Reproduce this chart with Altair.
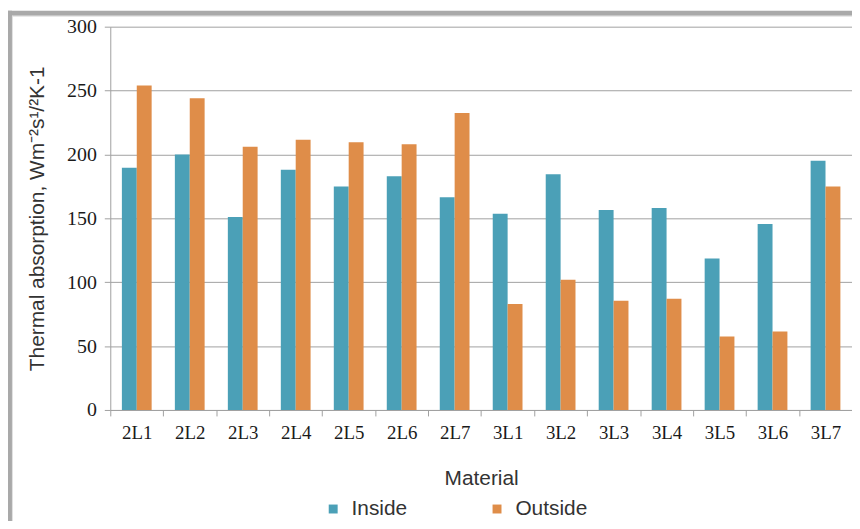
import altair as alt
import pandas as pd

materials = ["2L1", "2L2", "2L3", "2L4", "2L5", "2L6", "2L7",
             "3L1", "3L2", "3L3", "3L4", "3L5", "3L6", "3L7"]
inside = [189.5, 200, 151, 188, 175, 183, 166.5,
          153.5, 184.5, 156.5, 158, 118.5, 145.5, 195]
outside = [254, 244, 206, 211.5, 209.5, 208, 232.5,
           83, 102, 85.5, 87, 57.5, 61.5, 175]
series = ["Inside", "Outside"]
colors = ["#4BA0B7", "#DF8D49"]
y_ticks = [0, 50, 100, 150, 200, 250, 300]

rows = []
for m, a, b in zip(materials, inside, outside):
    rows.append({"Material": m, "Side": "Inside", "Value": a})
    rows.append({"Material": m, "Side": "Outside", "Value": b})
df = pd.DataFrame(rows)

GRID = "#a0a0a0"
W, H = 747, 386

bars = alt.Chart(df).mark_bar().encode(
    x=alt.X("Material:N", sort=materials,
            scale=alt.Scale(paddingInner=0, paddingOuter=0),
            axis=alt.Axis(title="Material", labelAngle=0, tickBand="extent",
                          tickSize=6, tickColor=GRID, domainColor=GRID,
                          labelFont="Liberation Serif", labelFontSize=19,
                          labelColor="#1a1a1a", labelPadding=8,
                          titleFont="Liberation Sans", titleFontSize=21,
                          titleFontWeight="normal", titleColor="#333333",
                          titlePadding=25, grid=False)),
    xOffset=alt.XOffset("Side:N", sort=series,
                        scale=alt.Scale(paddingOuter=0.78, paddingInner=0)),
    y=alt.Y("Value:Q", scale=alt.Scale(domain=[0, 300], nice=False),
            axis=alt.Axis(values=y_ticks, title="Thermal absorption, Wm⁻²s¹/²K-1",
                          tickSize=6, tickColor=GRID, domainColor=GRID,
                          gridColor=GRID, grid=True,
                          labelFont="Liberation Serif", labelFontSize=20,
                          labelColor="#1a1a1a", labelPadding=8,
                          titleFont="Liberation Sans", titleFontSize=21,
                          titleFontWeight="normal", titleColor="#333333",
                          titlePadding=19)),
    color=alt.Color("Side:N",
                    scale=alt.Scale(domain=series, range=colors),
                    legend=alt.Legend(title=None, orient="none", direction="horizontal",
                                      legendX=214, legendY=475,
                                      symbolType="square", symbolSize=81,
                                      symbolStrokeWidth=0,
                                      labelFont="Liberation Sans", labelFontSize=21,
                                      labelColor="#333333", labelOffset=8,
                                      columnPadding=79)),
)

one = pd.DataFrame({"k": [0]})
frame_top = alt.Chart(one).mark_rule(color="#a9a9a9", strokeWidth=5).encode(
    x=alt.value(-103), x2=alt.value(W), y=alt.value(-13.5))
frame_top_light = alt.Chart(one).mark_rule(color="#e0e0e0", strokeWidth=1).encode(
    x=alt.value(-99), x2=alt.value(W), y=alt.value(-10.5))
frame_left = alt.Chart(one).mark_rule(color="#a9a9a9", strokeWidth=4).encode(
    x=alt.value(-101), y=alt.value(-16), y2=alt.value(H + 112))
frame_left_light = alt.Chart(one).mark_rule(color="#e0e0e0", strokeWidth=1).encode(
    x=alt.value(-98.5), y=alt.value(-11), y2=alt.value(H + 112))

chart = alt.layer(bars, frame_top, frame_top_light, frame_left, frame_left_light).properties(
    width=W, height=H,
    autosize=alt.AutoSizeParams(type="none"),
    padding={"left": 103, "top": 17, "right": 0, "bottom": 110},
).configure_view(stroke=None)

chart.save("out.html", embed_options={"renderer": "svg", "actions": False})
